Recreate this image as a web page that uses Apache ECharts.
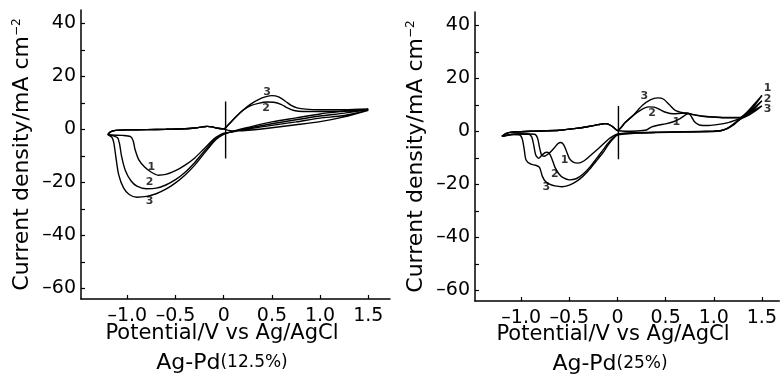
<!DOCTYPE html>
<html>
<head>
<meta charset="utf-8">
<script src="https://cdn.jsdelivr.net/npm/echarts@6/dist/echarts.min.js"></script>
<style>
  html, body { margin: 0; padding: 0; background: #fff; }
  #chart { width: 780px; height: 381px; }
</style>
</head>
<body>
<div id="chart"></div>
<script>
// tick positions
var xTicks = [-1.0, -0.5, 0, 0.5, 1.0, 1.5];
var yTicks = [-60, -50, -40, -30, -20, -10, 0, 10, 20, 30, 40];
var yLabels = [-60, -40, -20, 0, 20, 40];

// ---- Ag-Pd (12.5%) : [potential V, current mA cm-2]
var pd125Base = [[-1.2,-2.0],[-1.17,-0.9],[-1.12,-0.4],[-1.0,-0.2],[-0.8,-0.1],[-0.6,0.0],[-0.4,0.2],[-0.3,0.5],[-0.22,0.9],[-0.17,1.1],[-0.12,0.9],[-0.06,0.4],[0.0,0.2]];
var pd125Anodic1 = [[0.0,0.2],[0.05,-0.4],[0.15,-0.6],[0.25,-0.4],[0.5,0.6],[0.75,1.7],[1.0,2.9],[1.25,4.7],[1.5,7.2]];
var pd125Anodic2 = [[0.0,0.2],[0.05,1.8],[0.12,4.5],[0.2,7.2],[0.28,8.9],[0.36,9.8],[0.45,10.3],[0.52,10.2],[0.6,9.3],[0.66,8.1],[0.73,7.1],[0.82,6.7],[1.0,6.7],[1.2,6.8],[1.4,7.1],[1.5,7.4]];
var pd125Anodic3 = [[0.0,0.2],[0.05,1.8],[0.12,4.5],[0.2,7.2],[0.28,9.5],[0.36,11.2],[0.44,12.3],[0.5,12.7],[0.57,12.2],[0.64,10.6],[0.7,9.0],[0.76,8.1],[0.85,7.6],[1.0,7.4],[1.25,7.4],[1.5,7.7]];
var pd125Return1 = [[1.5,7.2],[1.25,5.2],[1.0,4.2],[0.75,2.8],[0.5,1.5],[0.25,0.1],[0.1,-0.9],[0.0,-1.5]];
var pd125Return2 = [[1.5,7.4],[1.25,6.1],[1.0,5.0],[0.75,3.6],[0.5,2.1],[0.25,0.4],[0.1,-0.8],[0.0,-1.7]];
var pd125Return3 = [[1.5,7.7],[1.25,6.8],[1.0,5.8],[0.75,4.3],[0.5,2.8],[0.25,0.7],[0.1,-0.7],[0.0,-1.9]];
var pd125Cathodic1 = [[0.0,-1.5],[-0.05,-2.4],[-0.1,-3.6],[-0.2,-7.2],[-0.3,-10.8],[-0.4,-13.5],[-0.5,-15.6],[-0.6,-17.0],[-0.68,-17.3],[-0.75,-16.2],[-0.82,-14.2],[-0.88,-11.5],[-0.92,-7.5],[-0.94,-4.2],[-0.97,-2.7],[-1.05,-2.3],[-1.2,-2.0]];
var pd125Cathodic2 = [[0.0,-1.7],[-0.05,-2.7],[-0.1,-4.1],[-0.2,-8.2],[-0.3,-12.5],[-0.4,-16.2],[-0.5,-19.0],[-0.6,-21.0],[-0.7,-22.2],[-0.8,-22.4],[-0.9,-21.4],[-0.96,-19.5],[-1.02,-15.5],[-1.06,-10.0],[-1.08,-5.5],[-1.1,-3.2],[-1.15,-2.4],[-1.2,-2.0]];
var pd125Cathodic3 = [[0.0,-1.9],[-0.05,-3.0],[-0.1,-4.6],[-0.2,-9.0],[-0.3,-13.5],[-0.4,-17.2],[-0.5,-20.2],[-0.6,-22.6],[-0.7,-24.3],[-0.8,-25.3],[-0.9,-25.6],[-0.98,-24.6],[-1.04,-22.0],[-1.09,-17.0],[-1.12,-10.0],[-1.14,-5.0],[-1.16,-3.0],[-1.2,-2.0]];
var pd125Tags = [[-0.75,-14.3,'1'],[-0.77,-20,'2'],[-0.77,-27,'3'],[0.45,14,'3'],[0.44,7.9,'2']];
var pd125Marker = [[0.02,10.5],[0.02,-11]];

// ---- Ag-Pd (25%)
var pd25Base = [[-1.2,-1.9],[-1.16,-0.9],[-1.1,-0.3],[-0.9,0.0],[-0.6,0.4],[-0.45,1.0],[-0.3,1.8],[-0.2,2.5],[-0.12,2.9],[-0.06,2.0],[-0.02,0.8],[0.0,0.3]];
var pd25Anodic1 = [[0.0,0.3],[0.08,0.0],[0.2,0.1],[0.3,0.5],[0.35,1.6],[0.42,2.3],[0.5,2.8],[0.58,3.6],[0.65,4.8],[0.71,6.3],[0.74,6.7],[0.77,5.4],[0.8,3.6],[0.85,2.4],[0.95,2.2],[1.05,2.6],[1.15,3.3],[1.22,4.1],[1.28,5.2],[1.35,7.4],[1.42,10.2],[1.5,13.5]];
var pd25Anodic2 = [[0.0,0.3],[0.08,3.3],[0.16,5.9],[0.25,8.2],[0.32,9.2],[0.38,9.1],[0.44,8.2],[0.5,7.2],[0.58,6.6],[0.66,6.8],[0.72,6.9],[0.78,6.3],[0.88,5.7],[1.0,5.4],[1.15,5.2],[1.27,5.2],[1.35,6.9],[1.42,9.0],[1.5,11.5]];
var pd25Anodic3 = [[0.0,0.3],[0.08,3.3],[0.16,5.9],[0.26,9.8],[0.34,11.9],[0.42,12.6],[0.48,12.1],[0.54,10.0],[0.6,7.9],[0.68,7.0],[0.78,6.4],[0.9,5.7],[1.02,5.3],[1.15,5.1],[1.27,5.1],[1.35,6.5],[1.42,8.0],[1.5,9.6]];
var pd25Return1 = [[1.5,13.5],[1.42,9.6],[1.35,6.9],[1.27,4.7],[1.2,2.6],[1.14,1.1],[1.08,0.3],[1.0,0.1],[0.7,-0.1],[0.4,-0.3],[0.2,-0.5],[0.0,-1.0]];
var pd25Return2 = [[1.5,11.5],[1.42,8.4],[1.35,6.4],[1.27,4.5],[1.2,2.4],[1.13,0.9],[1.07,0.2],[1.0,0.0],[0.7,-0.2],[0.4,-0.4],[0.2,-0.6],[0.0,-1.2]];
var pd25Return3 = [[1.5,9.6],[1.42,7.4],[1.35,5.8],[1.27,4.4],[1.2,2.3],[1.13,0.8],[1.07,0.2],[1.0,-0.1],[0.7,-0.3],[0.4,-0.5],[0.2,-0.7],[0.0,-1.4]];
var pd25Cathodic1 = [[0.0,-1.0],[-0.05,-1.9],[-0.1,-3.2],[-0.15,-4.9],[-0.2,-6.6],[-0.29,-9.4],[-0.35,-11.2],[-0.41,-12.0],[-0.46,-11.6],[-0.5,-10.2],[-0.53,-7.5],[-0.56,-5.0],[-0.59,-4.2],[-0.62,-4.7],[-0.66,-6.4],[-0.71,-8.3],[-0.76,-9.4],[-0.79,-8.8],[-0.81,-6.0],[-0.83,-2.6],[-0.86,-1.1],[-1.0,-0.9],[-1.1,-1.2],[-1.2,-1.9]];
var pd25Cathodic2 = [[0.0,-1.2],[-0.05,-2.6],[-0.1,-4.6],[-0.15,-7.0],[-0.22,-10.4],[-0.29,-13.6],[-0.36,-16.2],[-0.43,-17.9],[-0.5,-18.3],[-0.56,-17.6],[-0.61,-16.0],[-0.65,-13.5],[-0.68,-10.5],[-0.71,-8.2],[-0.74,-7.9],[-0.78,-8.8],[-0.82,-10.2],[-0.85,-8.8],[-0.87,-5.2],[-0.89,-2.2],[-0.92,-1.1],[-1.05,-1.0],[-1.2,-1.9]];
var pd25Cathodic3 = [[0.0,-1.4],[-0.05,-3.0],[-0.1,-5.3],[-0.15,-8.0],[-0.22,-11.2],[-0.29,-14.3],[-0.36,-17.0],[-0.43,-19.0],[-0.5,-20.3],[-0.58,-20.9],[-0.65,-20.6],[-0.7,-20.0],[-0.75,-18.8],[-0.78,-17.0],[-0.81,-13.6],[-0.85,-12.8],[-0.9,-12.4],[-0.95,-10.8],[-0.97,-6.5],[-0.99,-2.8],[-1.02,-1.3],[-1.1,-1.2],[-1.2,-1.9]];
var pd25Tags = [[0.28,13.2,'3'],[0.36,6.8,'2'],[0.61,3.4,'1'],[-0.55,-10.9,'1'],[-0.65,-16.2,'2'],[-0.74,-21,'3'],[1.56,16.2,'1'],[1.56,12,'2'],[1.56,8.3,'3']];
var pd25Marker = [[0.01,9.5],[0.01,-10.5]];

var FONT = 'DejaVu Sans';

function dash(v) {
    return v < 0 ? '\u2013' + Math.abs(v) : String(v);
}

function xAxisFor(idx, min, max) {
    return {
        type: 'value', gridIndex: idx, min: min, max: max,
        splitLine: { show: false },
        axisLine: { onZero: false, lineStyle: { color: '#000', width: 1.5 } },
        axisTick: { inside: true, length: 4, customValues: xTicks, lineStyle: { color: '#000', width: 1.2 } },
        axisLabel: {
            customValues: xTicks, color: '#000', fontFamily: FONT, fontSize: 19, margin: 8,
            formatter: function (v) { return v === 0 ? '0' : (v < 0 ? '\u2013' : '') + Math.abs(v).toFixed(1); }
        }
    };
}

function yAxisFor(idx) {
    return {
        type: 'value', gridIndex: idx, min: -64, max: 45,
        splitLine: { show: false },
        axisLine: { onZero: false, lineStyle: { color: '#000', width: 1.5 } },
        axisTick: { inside: true, length: 4, customValues: yTicks, lineStyle: { color: '#000', width: 1.2 } },
        axisLabel: { customValues: yLabels, color: '#000', fontFamily: FONT, fontSize: 19, margin: 5, formatter: dash },
        name: 'Current density/mA cm{s|\u22122}',
        nameLocation: 'middle', nameGap: 48,
        nameTextStyle: {
            color: '#000', fontFamily: FONT, fontSize: 22,
            rich: { s: { fontFamily: FONT, fontSize: 12, verticalAlign: 'top', color: '#000' } }
        }
    };
}

function loop(ret, cath, base, anod) {
    return ret.concat(cath, base, anod);
}

function cycleSeries(idx, data) {
    return {
        type: 'line', xAxisIndex: idx, yAxisIndex: idx, data: data,
        showSymbol: false, smooth: 0.25, silent: true,
        lineStyle: { color: '#000', width: 1.4 }
    };
}

function tagSeries(idx, data) {
    return {
        type: 'scatter', xAxisIndex: idx, yAxisIndex: idx, data: data,
        symbolSize: 0, silent: true,
        label: {
            show: true, position: 'inside', color: '#000', fontFamily: FONT, fontSize: 11, fontWeight: 'bold',
            formatter: function (p) { return p.data[2]; }
        }
    };
}

function markerSeries(idx, data) {
    return {
        type: 'line', xAxisIndex: idx, yAxisIndex: idx, data: data,
        showSymbol: false, silent: true, lineStyle: { color: '#000', width: 1.4 }
    };
}

var series = [
    cycleSeries(0, loop(pd125Return1, pd125Cathodic1, pd125Base, pd125Anodic1)),
    cycleSeries(0, loop(pd125Return2, pd125Cathodic2, pd125Base, pd125Anodic2)),
    cycleSeries(0, loop(pd125Return3, pd125Cathodic3, pd125Base, pd125Anodic3)),
    markerSeries(0, pd125Marker),
    tagSeries(0, pd125Tags),
    cycleSeries(1, loop(pd25Return1, pd25Cathodic1, pd25Base, pd25Anodic1)),
    cycleSeries(1, loop(pd25Return2, pd25Cathodic2, pd25Base, pd25Anodic2)),
    cycleSeries(1, loop(pd25Return3, pd25Cathodic3, pd25Base, pd25Anodic3)),
    markerSeries(1, pd25Marker),
    tagSeries(1, pd25Tags)
];

function caption(x, y, text) {
    return {
        type: 'text', x: x, y: y, silent: true,
        style: {
            text: text, fill: '#000',
            align: 'center', verticalAlign: 'middle',
            textAlign: 'center', textVerticalAlign: 'middle',
            font: '21px ' + FONT,
            rich: {
                a: { fontFamily: FONT, fontSize: 22, fill: '#000' },
                b: { fontFamily: FONT, fontSize: 17, fill: '#000' }
            }
        }
    };
}

var chart = echarts.init(document.getElementById('chart'), null, { renderer: 'canvas' });
chart.setOption({
    animation: false,
    backgroundColor: '#fff',
    grid: [
        { left: 81, top: 10, width: 309, height: 289 },
        { left: 475, top: 12, width: 305, height: 289 }
    ],
    xAxis: [xAxisFor(0, -1.48, 1.725), xAxisFor(1, -1.48, 1.68)],
    yAxis: [yAxisFor(0), yAxisFor(1)],
    series: series,
    graphic: [
        caption(222, 334, 'Potential/V vs Ag/AgCl'),
        caption(222, 363, '{a|Ag-Pd}{b|(12.5%)}'),
        caption(613, 335, 'Potential/V vs Ag/AgCl'),
        caption(610, 364, '{a|Ag-Pd}{b|(25%)}')
    ]
});
</script>
</body>
</html>
